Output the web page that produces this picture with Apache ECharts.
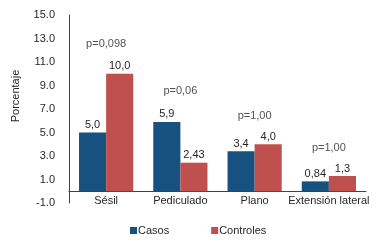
<!DOCTYPE html>
<html>
<head>
<meta charset="utf-8">
<script src="https://cdn.jsdelivr.net/npm/echarts@6/dist/echarts.min.js"></script>
<style>
html, body { margin: 0; padding: 0; background: #fff; }
#chart { width: 388px; height: 245px; }
</style>
</head>
<body>
<div id="chart"></div>
<script>
var categories = ['Sésil', 'Pediculado', 'Plano', 'Extensión lateral'];
var casos = [5.0, 5.9, 3.4, 0.84];
var controles = [10.0, 2.43, 4.0, 1.3];
var casosLabels = ['5,0', '5,9', '3,4', '0,84'];
var controlesLabels = ['10,0', '2,43', '4,0', '1,3'];
var pLabels = ['p=0,098', 'p=0,06', 'p=1,00', 'p=1,00'];
var pHeights = [12.5, 8.5, 6.4, 3.7];

var chart = echarts.init(document.getElementById('chart'));
var font = 'Liberation Sans, Arial, sans-serif';
var txt = '#262626';

option = {
    backgroundColor: '#fff',
    animation: false,
    textStyle: { fontFamily: font },
    grid: { left: 69, right: 22, top: 15, bottom: 42, containLabel: false, outerBoundsMode: 'none' },
    legend: {
        data: ['Casos', 'Controles'],
        left: 125,
        top: 220,
        icon: 'rect',
        itemWidth: 7,
        itemHeight: 7,
        itemGap: 42,
        textStyle: { fontSize: 11, color: txt, fontFamily: font, padding: [0, 0, 0, -4] }
    },
    xAxis: {
        type: 'category',
        data: categories,
        axisLine: { onZero: true, lineStyle: { color: '#404040', width: 1 } },
        axisTick: { show: false },
        axisLabel: { fontSize: 11, color: txt, margin: -8, interval: 0 }
    },
    yAxis: {
        type: 'value',
        min: -1,
        max: 15,
        interval: 2,
        name: 'Porcentaje',
        nameLocation: 'middle',
        nameGap: 48,
        nameTextStyle: { fontSize: 11, color: txt, padding: [0, 0, 0, 26] },
        axisLine: { show: true, lineStyle: { color: '#404040', width: 1 } },
        axisTick: { show: false },
        splitLine: { show: false },
        axisLabel: {
            fontSize: 11, color: txt, margin: 14,
            formatter: function (v) { return v.toFixed(1); }
        }
    },
    series: [
        {
            name: 'Casos',
            type: 'bar',
            data: casos,
            barGap: '0%',
            barCategoryGap: '27%',
            itemStyle: { color: '#17517F' },
            label: {
                show: true, position: 'top', distance: 2, fontSize: 11, color: txt,
                formatter: function (p) { return casosLabels[p.dataIndex]; }
            }
        },
        {
            name: 'Controles',
            type: 'bar',
            data: controles,
            itemStyle: { color: '#C0504D' },
            label: {
                show: true, position: 'top', distance: 2, fontSize: 11, color: txt,
                formatter: function (p) { return controlesLabels[p.dataIndex]; }
            }
        },
        {
            name: 'p',
            type: 'scatter',
            data: pHeights,
            symbolSize: 1,
            itemStyle: { color: 'rgba(0,0,0,0)' },
            silent: true,
            label: {
                show: true, position: 'inside', fontSize: 11, color: txt,
                formatter: function (p) { return pLabels[p.dataIndex]; }
            }
        }
    ]
};

chart.setOption(option);
window.onresize = function () { chart.resize(); };
</script>
</body>
</html>
